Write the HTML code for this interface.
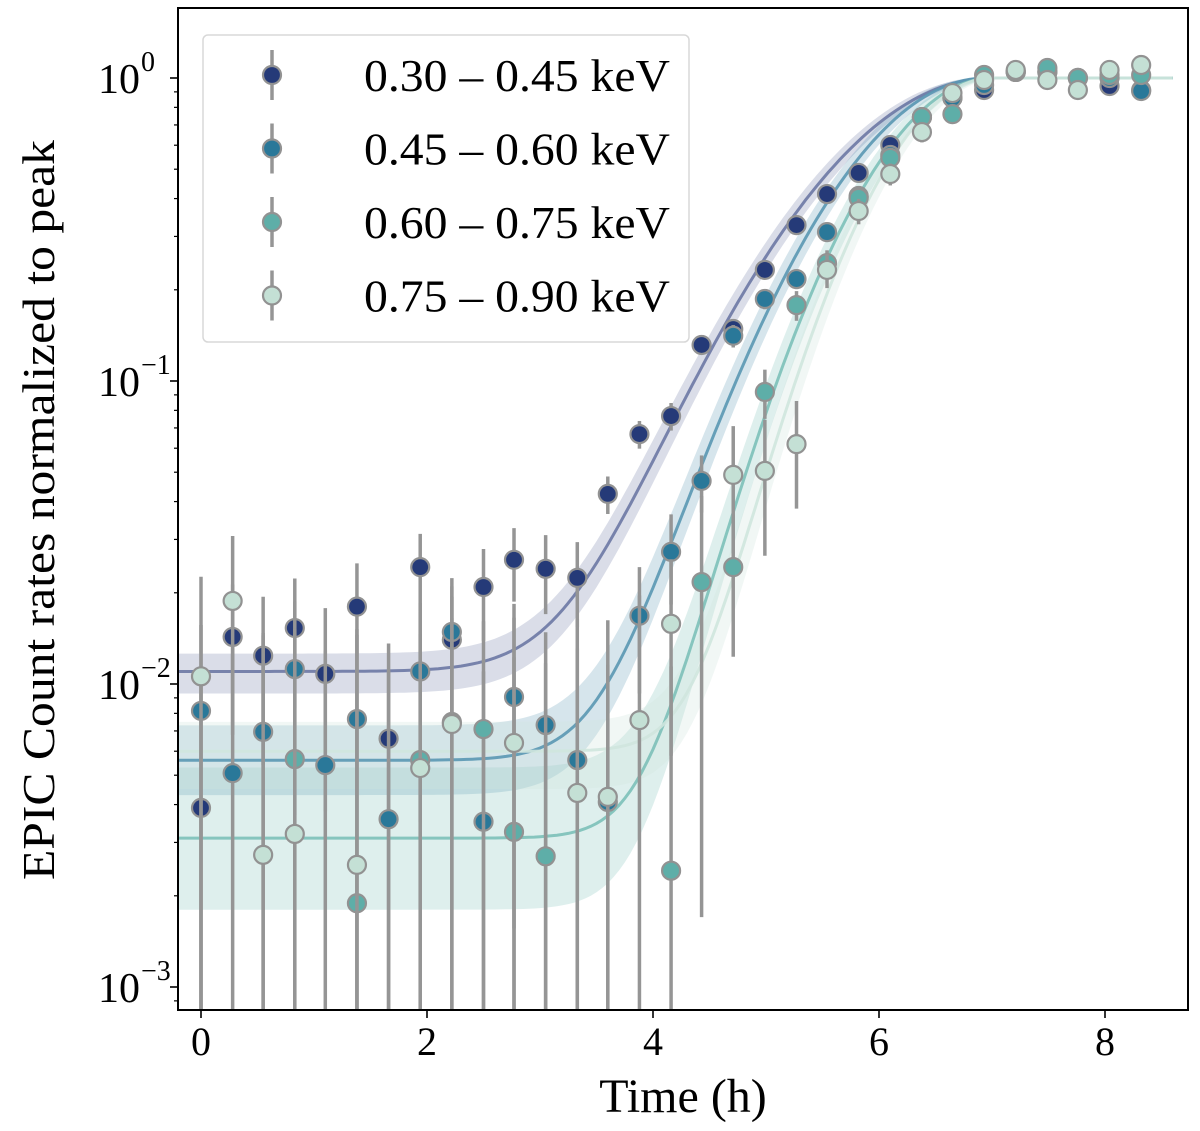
<!DOCTYPE html>
<html><head><meta charset="utf-8"><style>
body{margin:0;background:#fff;overflow:hidden}
svg{display:block;font-family:"Liberation Serif",serif}
</style></head><body>
<svg id="chart" width="1200" height="1131" viewBox="0 0 1200 1131">
<defs><clipPath id="clip"><rect x="178" y="8" width="1010" height="1002"/></clipPath></defs>
<rect x="0" y="0" width="1200" height="1131" fill="#fff"/>
<g id="bands" clip-path="url(#clip)"></g>
<g id="curves" clip-path="url(#clip)"></g>
<g id="points" clip-path="url(#clip)"></g>
<rect x="178" y="8" width="1010" height="1002" fill="none" stroke="#000" stroke-width="2"/>
<g id="axes"></g>
<g id="legend"></g>
<text x="683" y="1112" font-size="48" text-anchor="middle">Time (h)</text>
<text transform="translate(54,510) rotate(-90)" font-size="46" text-anchor="middle" textLength="740" lengthAdjust="spacingAndGlyphs">EPIC Count rates normalized to peak</text>
</svg>
<script>
const times=[0,0.28,0.55,0.83,1.1,1.38,1.66,1.94,2.22,2.5,2.77,3.05,3.33,3.6,3.88,4.16,4.43,4.71,4.99,5.27,5.54,5.82,6.1,6.38,6.65,6.93,7.21,7.49,7.76,8.04,8.32];
const bandNames=["0.30 – 0.45 keV","0.45 – 0.60 keV","0.60 – 0.75 keV","0.75 – 0.90 keV"];
const rate1=[0.0039,0.0143,0.0124,0.0153,0.0108,0.018,0.0066,0.0243,0.014,0.0209,0.0257,0.024,0.0224,0.0424,0.0668,0.0766,0.1315,0.1485,0.2326,0.327,0.414,0.486,0.601,0.743,0.859,0.913,1.047,1.047,1.0,0.941,0.913];
const rate2=[0.00815,0.00508,0.00695,0.0112,0.0054,0.00766,0.00358,0.011,0.01485,0.00351,0.00906,0.00732,0.00561,0.00408,0.0168,0.0273,0.0468,0.141,0.1865,0.217,0.31,0.408,0.557,0.743,0.859,0.948,1.047,1.047,1.0,1.0,0.906];
const rate3=[null,null,null,0.00565,null,0.00189,null,0.00561,0.00749,0.0071,0.00325,0.0027,null,null,null,0.00242,0.0217,0.0243,0.092,0.178,0.245,0.402,0.545,0.743,0.76,1.023,1.047,1.079,1.0,1.023,1.023];
const rate4=[0.0106,0.0188,0.00273,0.0032,null,0.00253,null,0.00528,0.00738,null,0.00639,null,0.00437,0.00424,0.0076,0.0158,null,0.049,0.0505,0.0619,0.2326,0.364,0.482,0.663,0.892,0.985,1.063,0.985,0.913,1.063,1.104];
const err1=[0.007,0.007,0.007,0.007,0.007,0.007,0.007,0.007,0.007,0.007,0.007,0.007,0.007,0.006,0.007,0.008,0.009,0.01,0.012,0.014,0.016,0.018,0.02,0.025,0.03,0.035,0.04,0.04,0.04,0.04,0.04];
const err2=[0.0075,0.0075,0.0075,0.0075,0.0075,0.0075,0.0075,0.0075,0.0075,0.0075,0.0075,0.0075,0.0075,0.0075,0.0075,0.009,0.01,0.012,0.014,0.016,0.02,0.025,0.03,0.035,0.04,0.045,0.05,0.05,0.05,0.05,0.05];
const err3=[0.009,0.009,0.009,0.009,0.009,0.009,0.009,0.009,0.009,0.009,0.009,0.009,0.009,0.009,0.009,0.009,0.02,0.012,0.017,0.02,0.025,0.03,0.04,0.04,0.04,0.04,0.04,0.04,0.04,0.04,0.04];
const err4=[0.012,0.012,0.012,0.012,0.012,0.012,0.012,0.012,0.012,0.012,0.012,0.012,0.012,0.012,0.012,0.01,0.02,0.022,0.024,0.024,0.03,0.035,0.04,0.05,0.05,0.05,0.05,0.05,0.05,0.05,0.05];
// fit model parameters: plateau level, band low/high plateau, peak time, rise width
const fitBase=[0.011,0.0056,0.0031,0.006];
const fitLow=[0.0093,0.0043,0.0018,0.0045];
const fitHigh=[0.0126,0.0073,0.0053,0.0075];
const fitPeak=[7.0,6.95,7.0,7.0];
const fitWidth=[1.2,1.02,0.88,0.8];
const xTicks=[0,2,4,6,8];
const yDecades=[-3,-2,-1,0];

const rates=[rate1,rate2,rate3,rate4], errs=[err1,err2,err3,err4];
const colors=["#253a78","#2a7899","#5eaea8","#c4e0d5"];
const lineColors=["#6c78a4","#5a97b2","#7cc0b8","#cfe6de"];
const X=t=>201+113*t;
const Y=v=>78-303*Math.log10(v);
const NS="http://www.w3.org/2000/svg";
function mk(tag,attrs,parent){const e=document.createElementNS(NS,tag);for(const k in attrs)e.setAttribute(k,attrs[k]);parent.appendChild(e);return e;}
function model(t,b,tp,s){if(t>=tp)return 1;const g=Math.exp(-Math.pow(t-tp,2)/(2*s*s));return b+(1-b)*g;}

const bandsG=document.getElementById('bands'),curvesG=document.getElementById('curves'),ptsG=document.getElementById('points');
for(let i=0;i<4;i++){
  let up=[],lo=[],mid=[];
  for(let t=-0.3;t<=8.6;t+=0.05){
    const a=model(t,fitHigh[i],fitPeak[i]-0.08,fitWidth[i]);
    const b=model(t,fitLow[i],fitPeak[i]+0.08,fitWidth[i]);
    up.push(X(t).toFixed(1)+','+Y(Math.max(a,b)).toFixed(1));
    lo.push(X(t).toFixed(1)+','+Y(Math.min(a,b)).toFixed(1));
    mid.push(X(t).toFixed(1)+','+Y(model(t,fitBase[i],fitPeak[i],fitWidth[i])).toFixed(1));
  }
  const band=mk('polygon',{points:up.concat(lo.reverse()).join(' '),fill:lineColors[i],'fill-opacity':i==3?0.3:0.25},bandsG);
  
  
  const ln=mk('polyline',{points:mid.join(' '),fill:'none',stroke:lineColors[i],'stroke-width':3,'stroke-opacity':0.9},curvesG);
  
  
}
for(let i=0;i<4;i++){
  const g=mk('g',{},ptsG);
  
  
  rates[i].forEach((v,j)=>{
    if(v==null)return;
    const x=X(times[j]);const lowV=v-errs[i][j];
    const y1=Y(v+errs[i][j]);const y2=lowV>0?Math.min(Y(lowV),1010):1010;
    const bar=mk('line',{x1:x,x2:x,y1:y1,y2:y2,stroke:'#959595','stroke-width':3.5},g);
    
    
    const c=mk('circle',{cx:x,cy:Y(v),r:9,fill:colors[i],stroke:'#929292','stroke-width':2.2},g);
    
    
  });
}
const ax=document.getElementById('axes');


xTicks.forEach(t=>{
  mk('line',{x1:X(t),x2:X(t),y1:1010,y2:1018,stroke:'#000','stroke-width':1.6},ax);
  const tx=mk('text',{x:X(t),y:1055,'font-size':40,'text-anchor':'middle'},ax);
  tx.textContent=t;
  
  
});
yDecades.forEach(d=>{
  const y=Y(Math.pow(10,d));
  mk('line',{x1:170,x2:178,y1:y,y2:y,stroke:'#000','stroke-width':1.6},ax);
  const tx=mk('text',{x:140,y:y+15,'font-size':42,'text-anchor':'end'},ax);
  tx.textContent='10';
  
  
  const sp=mk('text',{x:141,y:y-7,'font-size':28,'text-anchor':'start'},ax);
  sp.textContent=d==0?'0':'−'+(-d);
  
  
  for(let m=2;m<=9;m++){
    const yy=Y(m*Math.pow(10,d-1));
    if(yy<8||yy>1010)continue;
    mk('line',{x1:174,x2:178,y1:yy,y2:yy,stroke:'#000','stroke-width':1.2},ax);
  }
});
const lg=document.getElementById('legend');
mk('rect',{x:203,y:35,width:486,height:307,rx:5,fill:'#fff','fill-opacity':0.85,stroke:'#d8d8d8','stroke-width':1.5},lg);
bandNames.forEach((n,i)=>{
  const y=75+73.5*i;
  const e=mk('g',{},lg);
  
  
  mk('line',{x1:272,x2:272,y1:y-25,y2:y+25,stroke:'#959595','stroke-width':3.5},e);
  mk('circle',{cx:272,cy:y,r:9,fill:colors[i],stroke:'#929292','stroke-width':2.2},e);
  const t=mk('text',{x:364,y:y+16,'font-size':46,textLength:306,lengthAdjust:'spacingAndGlyphs'},e);
  t.textContent=n;
});
</script>
</body></html>
